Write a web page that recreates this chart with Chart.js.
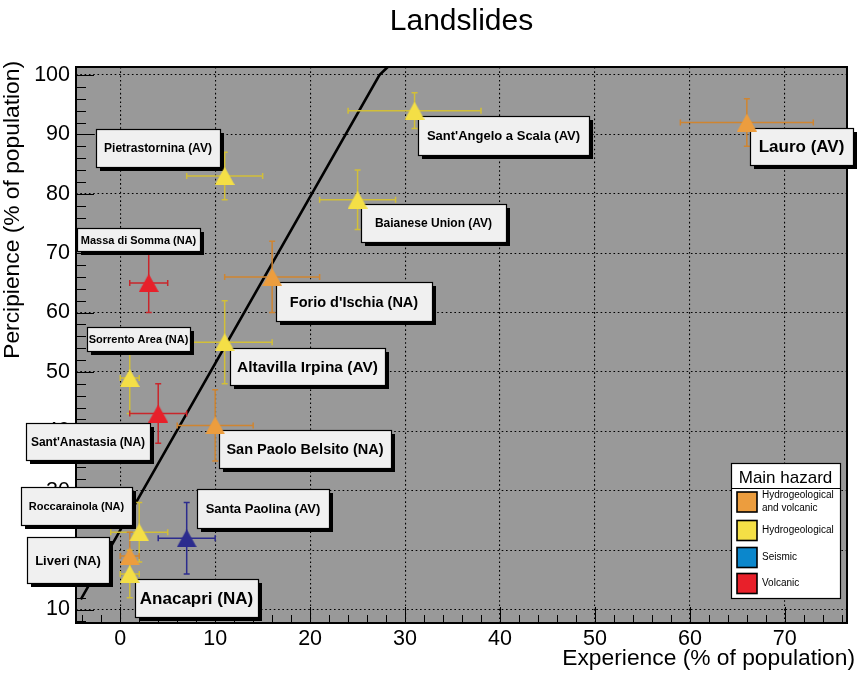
<!DOCTYPE html>
<html>
<head>
<meta charset="utf-8">
<title>Landslides</title>
<script src="https://cdn.jsdelivr.net/npm/chart.js@4.4.1/dist/chart.umd.min.js"></script>
<style>
  html, body { margin: 0; padding: 0; background: #ffffff; }
  #c { display: block; }
</style>
</head>
<body>
<canvas id="c" width="858" height="674"></canvas>
<script>
// Survey results per municipality: experience vs. percipience of landslides
const places = [
  "Lauro (AV)", "Sant'Angelo a Scala (AV)", "Baianese Union (AV)", "Pietrastornina (AV)",
  "Massa di Somma (NA)", "Forio d'Ischia (NA)", "Altavilla Irpina (AV)", "Sorrento Area (NA)",
  "Sant'Anastasia (NA)", "San Paolo Belsito (NA)", "Santa Paolina (AV)", "Roccarainola (NA)",
  "Liveri (NA)", "Anacapri (NA)"
];
const experience     = [66, 31, 25, 11, 3, 16, 11, 1, 4, 10, 7, 2, 1, 1];
const experienceErr  = [ 7,  7,  4,  4, 2,  5,  5, 1, 3,  4, 3, 3, 1, 1];
const percipience    = [92, 94, 79, 83, 65, 66, 55, 49, 43, 41, 22, 23, 19, 16];
const percipienceErr = [ 4,  3,  5,  4,  5,  6,  7,  6,  5,  6,  6,  5,  4,  4];
// index into hazardLabels
const hazardOfPlace  = [ 0,  1,  1,  1,  3,  0,  1,  1,  3,  0,  2,  1,  0,  1];

const hazardLabels = [["Hydrogeological", "and volcanic"], ["Hydrogeological"], ["Seismic"], ["Volcanic"]];

// Reference line
const fitX = [-4.15, 27.3, 28.2];
const fitY = [11.7, 100.0, 101.4];

// Axis ticks
const xTickValues = [0, 10, 20, 30, 40, 50, 60, 70];
const yTickValues = [10, 20, 30, 40, 50, 60, 70, 80, 90, 100];

// ---- styling ----
const FONT = '"Liberation Sans", Arial, Helvetica, sans-serif';
const swatchColor = ['#ec9d3e', '#f4df46', '#0b87cc', '#e8202a'];
const markerColor = ['#ec9d3e', '#f4df46', '#2c2c8e', '#e8202a'];
const barColor    = ['#cf8531', '#d2bf38', '#2c2c8e', '#c9262b'];

// Callout boxes: top-left corner in axis units, size in px, font size in px
const calloutLayout = [
  { x: 66.35, y: 91.13, w: 103, h: 37, size: 17 },
  { x: 31.35, y: 93.15, w: 171, h: 39, size: 13 },
  { x: 25.39, y: 78.23, w: 145, h: 38, size: 12 },
  { x: -2.59, y: 90.91, w: 124, h: 38, size: 12 },
  { x: -4.59, y: 74.29, w: 123, h: 23, size: 11 },
  { x: 16.45, y: 65.20, w: 156, h: 39, size: 14.5 },
  { x: 11.54, y: 53.98, w: 155, h: 37, size: 15.5 },
  { x: -3.53, y: 57.62, w: 103, h: 24, size: 11 },
  { x: -9.92, y: 41.45, w: 124, h: 37, size: 12 },
  { x: 10.41, y: 40.23, w: 172, h: 38, size: 14.5 },
  { x:  8.04, y: 30.24, w: 132, h: 39, size: 13 },
  { x: -10.45, y: 30.68, w: 111, h: 38, size: 11 },
  { x: -9.85, y: 22.26, w: 82, h: 46, size: 13 },
  { x:  1.55, y: 15.09, w: 123, h: 38, size: 17 }
];

function triangleMarker(color) {
  const c = document.createElement('canvas');
  c.width = 20; c.height = 18;
  const g = c.getContext('2d');
  g.beginPath();
  g.moveTo(10, 0); g.lineTo(20, 18); g.lineTo(0, 18); g.closePath();
  g.fillStyle = color;
  g.fill();
  return c;
}

const lineSet = {
  label: 'line',
  data: fitX.map((x, i) => ({ x: x, y: fitY[i] })),
  showLine: true,
  borderColor: '#000000',
  borderWidth: 2.6,
  pointRadius: 0,
  tension: 0,
  order: 2
};

const markerSets = hazardLabels.map((lab, h) => ({
  label: lab.join(' '),
  data: places.map((p, i) => ({ x: experience[i], y: percipience[i], i: i }))
              .filter(d => hazardOfPlace[d.i] === h),
  pointStyle: triangleMarker(markerColor[h]),
  pointRadius: 10,
  pointHoverRadius: 10,
  order: 1
}));

const decor = {
  id: 'decor',
  beforeDraw(chart) {
    const { ctx, chartArea: a } = chart;
    ctx.save();
    ctx.fillStyle = '#999999';
    ctx.fillRect(a.left, a.top, a.right - a.left, a.bottom - a.top);
    ctx.restore();
  },
  beforeDatasetsDraw(chart) {
    const { ctx, chartArea: a, scales } = chart;
    const sx = scales.x, sy = scales.y;
    ctx.save();
    ctx.strokeStyle = '#000000';
    ctx.lineWidth = 1;
    ctx.beginPath();
    for (let v = -4; v <= 76; v += 2) {
      const px = Math.round(sx.getPixelForValue(v)) + 0.5;
      const len = (v % 10 === 0) ? 16 : 8;
      ctx.moveTo(px, a.bottom); ctx.lineTo(px, a.bottom - len);
    }
    for (let v = 8; v <= 100; v += 2) {
      const py = Math.round(sy.getPixelForValue(v)) + 0.5;
      const len = (v % 10 === 0) ? 18 : 10;
      ctx.moveTo(a.left, py); ctx.lineTo(a.left + len, py);
    }
    ctx.stroke();
    ctx.lineWidth = 2;
    ctx.strokeRect(a.left, a.top, a.right - a.left, a.bottom - a.top);
    ctx.restore();
  },
  afterDatasetDraw(chart, args) {
    if (args.index !== 0) return;
    const { ctx, scales } = chart;
    const sx = scales.x, sy = scales.y;
    ctx.save();
    // error bars
    ctx.lineWidth = 1.5;
    places.forEach((p, i) => {
      const px = sx.getPixelForValue(experience[i]);
      const py = sy.getPixelForValue(percipience[i]);
      const xl = sx.getPixelForValue(experience[i] - experienceErr[i]);
      const xr = sx.getPixelForValue(experience[i] + experienceErr[i]);
      const yt = sy.getPixelForValue(percipience[i] + percipienceErr[i]);
      const yb = sy.getPixelForValue(percipience[i] - percipienceErr[i]);
      ctx.strokeStyle = barColor[hazardOfPlace[i]];
      ctx.beginPath();
      ctx.moveTo(xl, py); ctx.lineTo(xr, py);
      ctx.moveTo(px, yt); ctx.lineTo(px, yb);
      ctx.moveTo(xl, py - 3); ctx.lineTo(xl, py + 3);
      ctx.moveTo(xr, py - 3); ctx.lineTo(xr, py + 3);
      ctx.moveTo(px - 3, yt); ctx.lineTo(px + 3, yt);
      ctx.moveTo(px - 3, yb); ctx.lineTo(px + 3, yb);
      ctx.stroke();
    });
    // callout boxes with place names
    places.forEach((p, i) => {
      const L = calloutLayout[i];
      const bx = Math.round(sx.getPixelForValue(L.x));
      const by = Math.round(sy.getPixelForValue(L.y));
      ctx.fillStyle = '#000000';
      ctx.fillRect(bx + 4, by + 4, L.w, L.h);
      ctx.fillStyle = '#f0f0f0';
      ctx.fillRect(bx, by, L.w, L.h);
      ctx.strokeStyle = '#000000';
      ctx.lineWidth = 1.2;
      ctx.strokeRect(bx + 0.5, by + 0.5, L.w, L.h);
      ctx.fillStyle = '#000000';
      ctx.font = 'bold ' + L.size + 'px ' + FONT;
      ctx.textAlign = 'center';
      ctx.textBaseline = 'middle';
      ctx.fillText(p, bx + L.w / 2, by + L.h / 2 + 1);
    });
    ctx.restore();
  },
  afterDraw(chart) {
    const { ctx, chartArea: a } = chart;
    ctx.save();
    // hazard legend
    const lx = a.right - 116, ly = a.bottom - 160, lw = 109, lh = 135;
    ctx.fillStyle = '#ffffff';
    ctx.fillRect(lx, ly, lw, lh);
    ctx.strokeStyle = '#000000';
    ctx.lineWidth = 1.2;
    ctx.strokeRect(lx + 0.5, ly + 0.5, lw, lh);
    ctx.beginPath();
    ctx.moveTo(lx, ly + 25.5); ctx.lineTo(lx + lw, ly + 25.5);
    ctx.stroke();
    ctx.fillStyle = '#000000';
    ctx.font = '17px ' + FONT;
    ctx.textAlign = 'center';
    ctx.textBaseline = 'alphabetic';
    ctx.fillText('Main hazard', lx + lw / 2, ly + 20);
    const rowCenters = [39, 67.5, 94.5, 120.5];
    ctx.font = '10px ' + FONT;
    ctx.textAlign = 'left';
    ctx.textBaseline = 'middle';
    hazardLabels.forEach((lines, h) => {
      const cy = ly + rowCenters[h];
      ctx.fillStyle = swatchColor[h];
      ctx.fillRect(lx + 6, cy - 10, 20, 20);
      ctx.lineWidth = 1.6;
      ctx.strokeStyle = '#000000';
      ctx.strokeRect(lx + 6, cy - 10, 20, 20);
      ctx.fillStyle = '#000000';
      lines.forEach((t, k) => {
        ctx.fillText(t, lx + 31, cy + (k - (lines.length - 1) / 2) * 13);
      });
    });
    // axis titles
    ctx.font = '22.8px ' + FONT;
    ctx.textBaseline = 'alphabetic';
    ctx.textAlign = 'right';
    ctx.fillText('Experience (% of population)', 855, 665);
    ctx.translate(18.5, 61);
    ctx.rotate(-Math.PI / 2);
    ctx.fillText('Percipience (% of population)', 0, 0);
    ctx.restore();
  }
};

Chart.defaults.color = '#000000';
Chart.defaults.font.family = FONT;

new Chart(document.getElementById('c'), {
  type: 'scatter',
  data: { datasets: [lineSet].concat(markerSets) },
  options: {
    responsive: false,
    devicePixelRatio: 1,
    animation: false,
    events: [],
    layout: { padding: { left: 0, right: 10, top: 0, bottom: 0 } },
    plugins: {
      legend: { display: false },
      tooltip: { enabled: false },
      title: {
        display: true,
        text: 'Landslides',
        fullSize: false,
        color: '#000000',
        font: { size: 30, weight: 'normal', family: FONT, lineHeight: 1.2 },
        padding: { top: 4, bottom: 27 }
      }
    },
    scales: {
      x: {
        type: 'linear',
        min: -4.66,
        max: 76.55,
        afterFit: (s) => { s.height = 51; },
        afterBuildTicks: (s) => { s.ticks = xTickValues.map(v => ({ value: v })); },
        ticks: { font: { size: 21.5 }, padding: 3, maxRotation: 0, autoSkip: false, color: '#000000' },
        grid: { color: '#000000', lineWidth: 1.1, drawTicks: false },
        border: { display: false, dash: [1.6, 2.7] }
      },
      y: {
        type: 'linear',
        min: 7.73,
        max: 101.35,
        afterFit: (s) => { s.width = 76; },
        afterBuildTicks: (s) => { s.ticks = yTickValues.map(v => ({ value: v })); },
        ticks: { font: { size: 21.5 }, padding: 6, autoSkip: false, color: '#000000' },
        grid: { color: '#000000', lineWidth: 1.1, drawTicks: false },
        border: { display: false, dash: [1.6, 2.7] }
      }
    }
  },
  plugins: [decor]
});
</script>
</body>
</html>
